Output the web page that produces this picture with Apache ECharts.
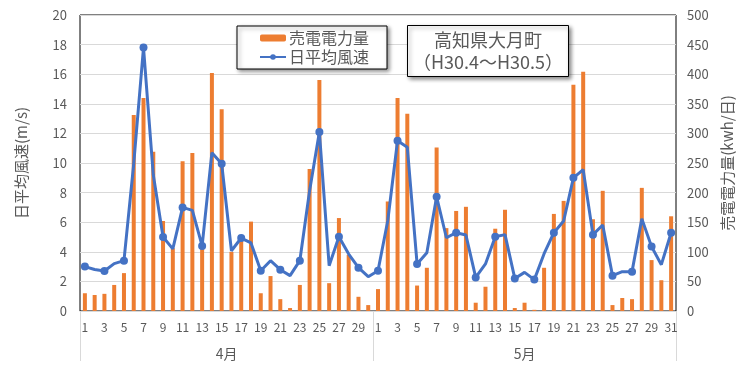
<!DOCTYPE html>
<html><head><meta charset="utf-8">
<script src="https://cdn.jsdelivr.net/npm/echarts@6/dist/echarts.min.js"></script>
<style>html,body{margin:0;padding:0;background:#fff}#c{width:750px;height:373px}</style>
</head><body><div id="c"></div>
<script>
const days = ['1','2','3','4','5','6','7','8','9','10','11','12','13','14','15','16','17','18','19','20','21','22','23','24','25','26','27','28','29','30',
              '1','2','3','4','5','6','7','8','9','10','11','12','13','14','15','16','17','18','19','20','21','22','23','24','25','26','27','28','29','30','31'];
const months = ['4月','5月'];
const windApr = [3.0,2.8,2.7,3.2,3.4,9.95,17.8,9.2,5.0,4.2,7.0,6.8,4.4,10.7,9.95,4.07,4.93,4.6,2.72,3.4,2.79,2.39,3.4,8.13,12.1,3.06,5.02,3.85,2.93,2.32];
const windMay = [2.72,6.1,11.5,11.06,3.18,3.94,7.72,4.95,5.29,5.13,2.27,3.18,5.02,5.16,2.2,2.61,2.12,3.87,5.29,6.08,9.0,9.55,5.16,5.81,2.39,2.66,2.66,6.24,4.35,3.13,5.29];
const powerApr = [30,27,29,44,64,331,360,269,152,106,253,267,109,402,341,100,120,151,30,59,20,5,44,240,390,47,157,95,24,10];
const powerMay = [37,185,360,333,43,73,276,140,169,176,14,41,139,171,5,14,2,73,164,186,382,404,155,203,10,22,20,208,86,52,160];
const leftTicks = {min:0, max:20, interval:2};
const rightTicks = {min:0, max:500, interval:50};

const font = 'Noto Sans CJK JP';
const txt = '#595959';
const chart = echarts.init(document.getElementById('c'));
const nApr = windApr.length, nAll = days.length;
chart.setOption({
  animation:false,
  textStyle:{fontFamily:font},
  title:{
    text:'高知県大月町\n（H30.4～H30.5）',
    left:482, top:25, textAlign:'center',
    padding:[4,6,4,6],
    borderColor:'#000', borderWidth:1, backgroundColor:'#fff',
    shadowBlur:4, shadowColor:'rgba(0,0,0,0.45)', shadowOffsetX:2, shadowOffsetY:2,
    textStyle:{fontFamily:font, fontSize:18, fontWeight:'normal', color:txt, lineHeight:22}
  },
  legend:{
    left:237, top:26, orient:'vertical',
    padding:[4,18,4,22], itemGap:3,
    itemWidth:26, itemHeight:7,
    borderColor:'#000', borderWidth:1, backgroundColor:'#fff',
    shadowBlur:4, shadowColor:'rgba(0,0,0,0.45)', shadowOffsetX:2, shadowOffsetY:2,
    textStyle:{fontFamily:font, fontSize:16, color:txt, padding:[0,0,0,-2]},
    data:['売電電力量','日平均風速']
  },
  grid:{left:80, right:74, top:15, bottom:62, show:true, borderColor:'#000', borderWidth:1},
  xAxis:[{
    type:'category', data:days, boundaryGap:true,
    axisLine:{lineStyle:{color:'#d9d9d9'}},
    axisTick:{interval:0, length:25, lineStyle:{color:'#d9d9d9'}},
    axisLabel:{interval:1, margin:10, fontSize:12, color:txt, fontFamily:font},
    splitLine:{show:false}
  },{
    type:'value', min:0, max:nAll, position:'bottom',
    axisLine:{show:false},
    axisTick:{show:true, customValues:[0,nApr,nAll], length:50, lineStyle:{color:'#d9d9d9'}},
    axisLabel:{customValues:[nApr/2,(nApr+nAll)/2], margin:36, fontSize:14, color:txt, fontFamily:font,
      formatter:function(v){return v<nApr?months[0]:months[1];}},
    splitLine:{show:false}
  }],
  yAxis:[{
    type:'value', min:leftTicks.min, max:leftTicks.max, interval:leftTicks.interval,
    name:'日平均風速(m/s)', nameLocation:'middle', nameRotate:90, nameGap:51,
    nameTextStyle:{fontSize:15, color:txt, fontFamily:font},
    axisLine:{show:false}, axisTick:{show:false},
    axisLabel:{fontSize:13, color:txt, margin:13, fontFamily:font},
    splitLine:{lineStyle:{color:'#d9d9d9'}}
  },{
    type:'value', min:rightTicks.min, max:rightTicks.max, interval:rightTicks.interval, position:'right',
    name:'売電電力量(kwh/日)', nameLocation:'middle', nameRotate:90, nameGap:43,
    nameTextStyle:{fontSize:15, color:txt, fontFamily:font},
    axisLine:{show:false}, axisTick:{show:false},
    axisLabel:{fontSize:13, color:txt, margin:11, fontFamily:font},
    splitLine:{show:false}
  }],
  series:[{
    name:'売電電力量', type:'bar', xAxisIndex:0, yAxisIndex:1,
    data:powerApr.concat(powerMay), barWidth:4,
    itemStyle:{color:'#ED7D31'}
  },{
    name:'日平均風速', type:'line', xAxisIndex:0, yAxisIndex:0,
    data:windApr.concat(windMay),
    symbol:'circle', symbolSize:8,
    lineStyle:{color:'#4472C4', width:3},
    itemStyle:{color:'#4472C4'}
  }]
});
</script></body></html>
